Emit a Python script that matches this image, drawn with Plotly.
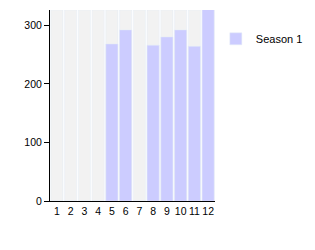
import plotly.graph_objects as go

categories = [str(i) for i in range(1, 13)]
season1 = [0, 0, 0, 0, 268, 292, 0, 266, 280, 292, 264, 340]
y_max = 326
background = [y_max] * len(categories)

fig = go.Figure()
fig.add_trace(go.Bar(x=categories, y=background, marker_color="#f2f2f2",
                     showlegend=False, hoverinfo="skip"))
fig.add_trace(go.Bar(x=categories, y=season1, marker_color="#ccccff",
                     name="Season 1"))
fig.update_layout(
    width=315, height=250, barmode="overlay", bargap=0.12,
    margin=dict(l=50, r=100, t=10, b=49, autoexpand=False),
    plot_bgcolor="white", paper_bgcolor="white",
    font=dict(family="Liberation Sans, Arial", size=11, color="black"),
    showlegend=True,
    legend=dict(x=1.005, y=0.925, xanchor="left", yanchor="top",
                font=dict(size=11), bgcolor="rgba(0,0,0,0)"),
    xaxis=dict(type="category", showline=True, linecolor="black", linewidth=1,
               ticks="", showgrid=False, tickmode="array", tickvals=categories,
               ticktext=categories, tickangle=0, tickfont=dict(size=10.5)),
    yaxis=dict(range=[0, y_max], showline=True, linecolor="black", linewidth=1,
               ticks="outside", ticklen=5, tickcolor="black", showgrid=False,
               zeroline=False, tickvals=[0, 100, 200, 300], tickfont=dict(size=10.5)),
)
fig.write_html("out.html")
